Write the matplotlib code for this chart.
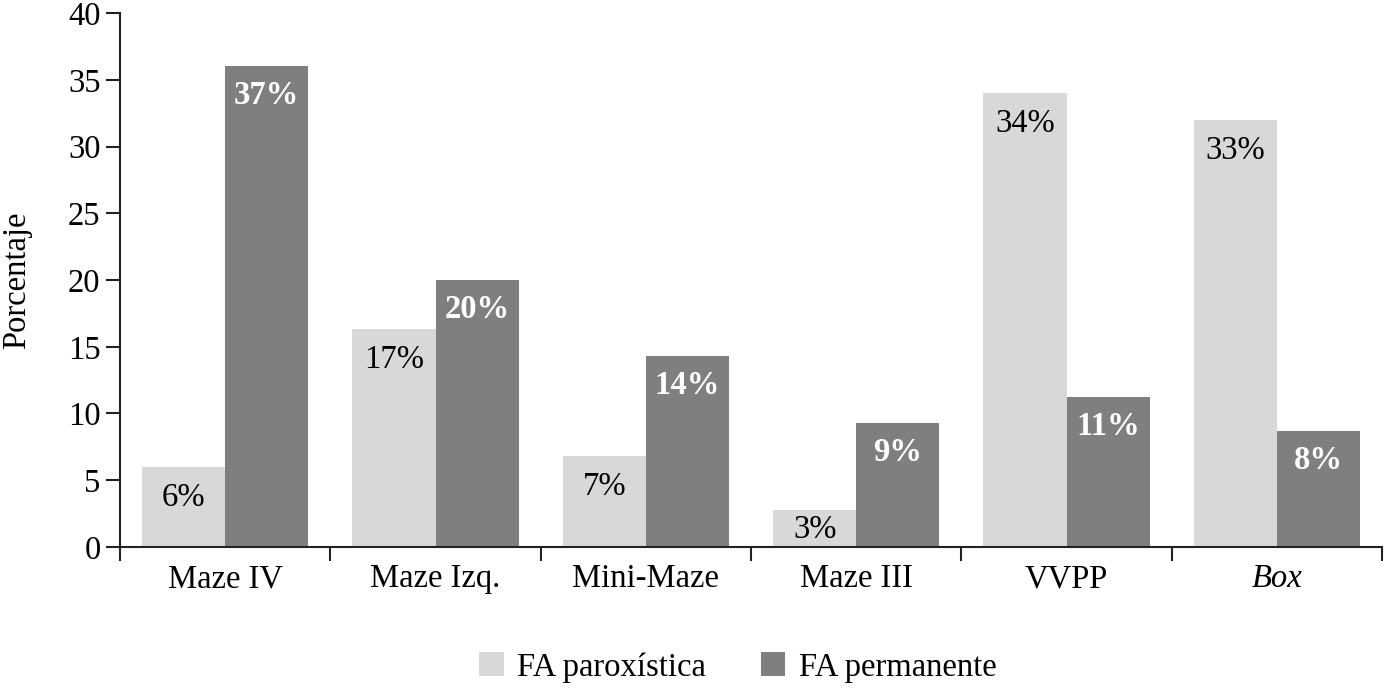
import matplotlib
matplotlib.use("Agg")
import matplotlib.pyplot as plt
import numpy as np
from matplotlib.patches import Patch

plt.rcParams['font.family'] = ['Liberation Serif', 'DejaVu Serif']

categories = ["Maze IV", "Maze Izq.", "Mini-Maze", "Maze III", "VVPP", "Box"]
paroxistica = [6.0, 16.3, 6.8, 2.8, 34.0, 32.0]
permanente = [36.0, 20.0, 14.3, 9.3, 11.2, 8.7]
paroxistica_labels = ["6%", "17%", "7%", "3%", "34%", "33%"]
permanente_labels = ["37%", "20%", "14%", "9%", "11%", "8%"]
yticks = [0, 5, 10, 15, 20, 25, 30, 35, 40]

light = "#d8d8d8"
dark = "#7f7f7f"

fig = plt.figure(figsize=(13.84, 6.88), dpi=100)
ax = fig.add_axes([0.0867, 0.205, 0.9119, 0.776])

x = np.arange(len(categories))
w = 0.395
ax.bar(x - w / 2, paroxistica, w, color=light, edgecolor='none')
ax.bar(x + w / 2, permanente, w, color=dark, edgecolor='none')

fs = 23.5
for xi, v, lab in zip(x, paroxistica, paroxistica_labels):
    y = max(v - 2.3, 1.3)
    ax.text(xi - w / 2, y, lab, ha='center', va='center', fontsize=fs, color='black')
for xi, v, lab in zip(x, permanente, permanente_labels):
    y = max(v - 2.2, 1.3)
    ax.text(xi + w / 2, y, lab, ha='center', va='center', fontsize=fs, color='white',
            fontweight='bold')

ax.set_xlim(-0.5, len(categories) - 0.5)
ax.set_ylim(0, 40)
ax.set_yticks(yticks)
ax.set_yticklabels([str(t) for t in yticks], fontsize=fs)
ax.set_xticks(x)
ax.set_xticklabels(categories, fontsize=fs)
ax.get_xticklabels()[-1].set_fontstyle('italic')
ax.set_xticks(np.arange(len(categories) + 1) - 0.5, minor=True)
ax.tick_params(axis='x', which='major', length=0, pad=12)
ax.tick_params(axis='x', which='minor', length=10, width=1.5, direction='out', color='#222222')
ax.tick_params(axis='y', length=10, width=1.5, direction='out', pad=4, color='#222222')

for s in ['top', 'right']:
    ax.spines[s].set_visible(False)
for s in ['left', 'bottom']:
    ax.spines[s].set_linewidth(1.5)
    ax.spines[s].set_color('#222222')

ax.set_ylabel("Porcentaje", fontsize=fs, labelpad=26)

handles = [Patch(facecolor=light, edgecolor='none', label="FA paroxística"),
           Patch(facecolor=dark, edgecolor='none', label="FA permanente")]
fig.legend(handles=handles, loc='center', bbox_to_anchor=(0.533, 0.03), ncol=2,
           frameon=False, fontsize=fs, handlelength=0.75, handleheight=0.75,
           handletextpad=0.4, columnspacing=1.7)

fig.savefig("out.png", dpi=100)
